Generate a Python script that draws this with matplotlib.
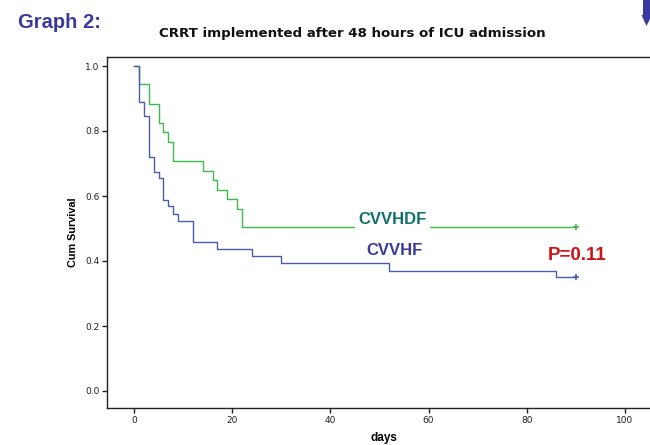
import numpy as np
import matplotlib
matplotlib.use('Agg')
import matplotlib.pyplot as plt
from matplotlib.patches import Polygon

#### DATA
cvvhdf_days = [0, 1, 3, 5, 6, 7, 8, 14, 16, 17, 19, 21, 22, 90]
cvvhdf_surv = [1.0, 0.944, 0.882, 0.824, 0.796, 0.767, 0.708, 0.678, 0.648, 0.618, 0.590, 0.561, 0.504, 0.504]

cvvhf_days = [0, 1, 2, 3, 4, 5, 6, 7, 8, 9, 12, 17, 24, 30, 52, 86, 90]
cvvhf_surv = [1.0, 0.890, 0.847, 0.719, 0.675, 0.654, 0.587, 0.568, 0.546, 0.523, 0.457, 0.436, 0.414, 0.393, 0.370, 0.350, 0.350]

x_ticks = [0, 20, 40, 60, 80, 100]
y_ticks = [0.0, 0.2, 0.4, 0.6, 0.8, 1.0]

green, blue = '#3dbb4a', '#4a5cb0'

#### FIGURE
W, H = 650, 445
fig = plt.figure(figsize=(W / 100, H / 100), dpi=100)
# axes box in pixels: left 107, right past the crop, top 57, bottom 408
ax = fig.add_axes([107 / W, (H - 408) / H, (660 - 107) / W, (408 - 57) / H])

ax.plot(cvvhdf_days, cvvhdf_surv, drawstyle='steps-post', color=green, lw=1.0)
ax.plot(cvvhf_days, cvvhf_surv, drawstyle='steps-post', color=blue, lw=1.0)
ax.plot(cvvhdf_days[-1], cvvhdf_surv[-1], '+', color=green, ms=5, mew=1.2)
ax.plot(cvvhf_days[-1], cvvhf_surv[-1], '+', color=blue, ms=5, mew=1.2)

ax.set_xlim((107 - 134) / 4.91, (660 - 134) / 4.91)
ax.set_ylim((391 - 408) / 325, (391 - 57) / 325)
ax.set_xticks(x_ticks)
ax.set_yticks(y_ticks)
ax.set_yticklabels([f'{v:.1f}' for v in y_ticks])
ax.tick_params(direction='out', length=3.5, width=1, colors='#222222', labelsize=6.5, pad=2)
for s in ax.spines.values():
    s.set_linewidth(1.0)
    s.set_color('#222222')
ax.spines['right'].set_visible(False)

ax.set_ylabel('Cum Survival', family='Liberation Sans', fontweight='bold', fontsize=7.8, labelpad=5)
# "days" sits at the very bottom edge, as in the reference
fig.text(0.5 * (107 + 660) / W, 1 / H, 'days', ha='center', va='bottom',
         family='Liberation Sans', fontweight='bold', fontsize=8.5)

ax.text(52.7, 0.528, 'CVVHDF', color='#11706a', family='Liberation Sans', fontweight='bold',
        fontsize=12, ha='center', va='center',
        bbox=dict(facecolor='white', edgecolor='none', pad=2.5))
ax.text(53, 0.432, 'CVVHF', color='#3a3a9e', family='Liberation Sans', fontweight='bold',
        fontsize=12, ha='center', va='center')
ax.text(90.2, 0.418, 'P=0.11', color='#d01414', family='Liberation Sans', fontweight='bold',
        fontsize=13.5, ha='center', va='center')

fig.text(18 / W, 1 - 22 / H, 'Graph 2:', color='#3a3a9e', family='Liberation Sans',
         fontweight='bold', fontsize=14.5, ha='left', va='center')
fig.text(352 / W, 1 - 33 / H, 'CRRT implemented after 48 hours of ICU admission',
         color='#111111', fontsize=9.6, ha='center', va='center', fontweight='bold')

# slide arrow cropped at the top right
fig.patches.append(Polygon(
    [(643 / W, 1), (650 / W, 1), (650 / W, 1 - 15 / H), (652 / W, 1 - 15 / H),
     (646.5 / W, 1 - 26 / H), (641.5 / W, 1 - 15 / H), (643 / W, 1 - 15 / H)],
    closed=True, transform=fig.transFigure, facecolor='#3a3a9e', edgecolor='none'))

fig.savefig('out.png', dpi=100)
